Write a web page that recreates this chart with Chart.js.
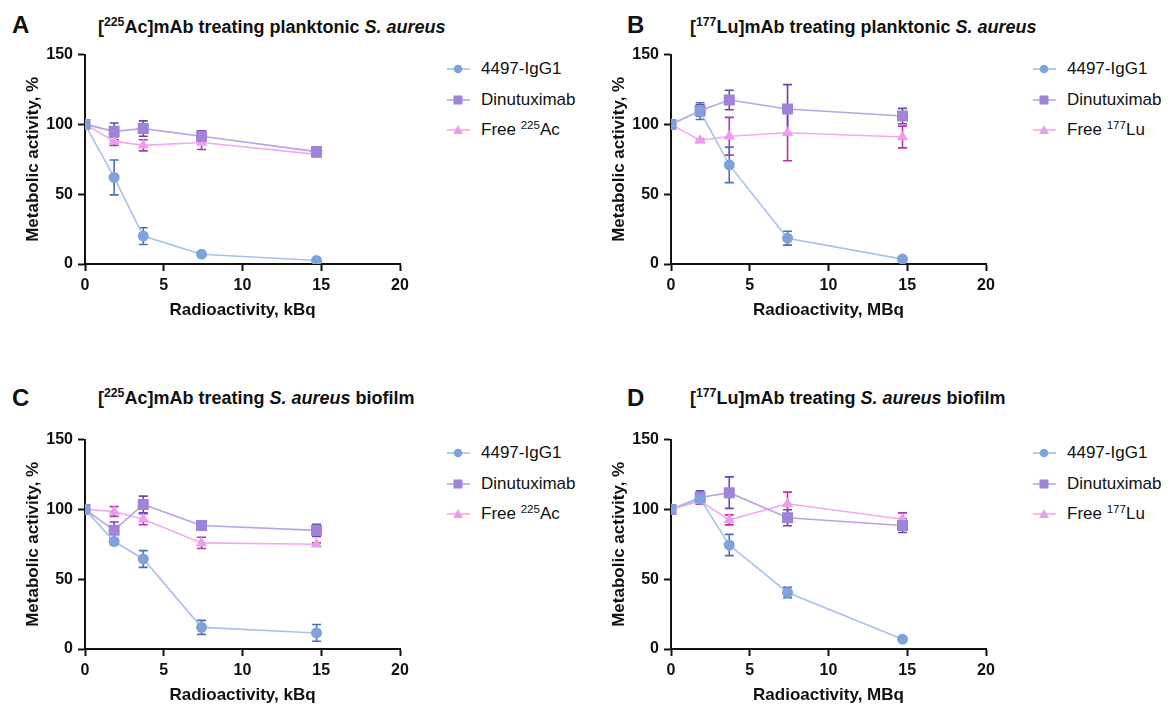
<!DOCTYPE html>
<html>
<head>
<meta charset="utf-8">
<script src="https://cdn.jsdelivr.net/npm/chart.js@4.4.1/dist/chart.umd.min.js"></script>
<style>
    body {
        margin: 0;
        width: 1169px;
        height: 706px;
        overflow: hidden;
        background: #ffffff;
        font-family: "Liberation Sans", Arial, sans-serif;
        position: relative;
    }
    .panel {
        position: absolute;
    }
    .letter {
        position: absolute;
        font-weight: bold;
        font-size: 24px;
        line-height: 24px;
        color: #111;
    }
    .title {
        position: absolute;
        font-weight: bold;
        font-size: 18px;
        line-height: 20px;
        color: #111;
        white-space: nowrap;
    }
    .title sup, .legend sup {
        font-size: 0.68em;
        line-height: 0;
        vertical-align: 0.55em;
    }
    .legend {
        position: absolute;
        font-size: 17px;
        color: #111;
    }
    .legend .item {
        position: absolute;
        left: 0;
        white-space: nowrap;
        height: 20px;
        line-height: 20px;
    }
    .legend svg {
        position: absolute;
        left: 0;
        top: 0;
    }
    .legend span {
        position: absolute;
        left: 35px;
        top: 0;
    }
</style>
</head>
<body>

<script>
// x values (dose) shared by all panels
const doses = [0, 1.85, 3.7, 7.4, 14.7];
const seriesNames = ["4497-IgG1", "Dinutuximab", "Free"];

// panel A: [225Ac]mAb, planktonic
const igg1A = [100, 62, 20, 7, 2.5];
const igg1AErr = [0, 12.5, 6, 1, 0.5];
const dinuA = [100, 95, 97, 91.5, 80.5];
const dinuAErr = [0, 6, 5.5, 4, 3];
const freeA = [100, 88, 85, 87, 78.5];
const freeAErr = [0, 3, 4, 5, 2];

// panel B: [177Lu]mAb, planktonic
const igg1B = [100, 109.5, 71, 18.5, 3.5];
const igg1BErr = [0, 6, 12.7, 5, 0.5];
const dinuB = [100, 110, 117.5, 111, 106];
const dinuBErr = [0, 4, 7, 17.5, 5.5];
const freeB = [100, 88.5, 91.5, 94, 91];
const freeBErr = [0, 1, 13.5, 20, 7.8];

// panel C: [225Ac]mAb, biofilm
const igg1C = [100, 77, 64.5, 15.5, 11.5];
const igg1CErr = [0, 2, 6, 5, 6];
const dinuC = [100, 85, 103.5, 88.5, 85];
const dinuCErr = [0, 6, 6, 1.5, 4.3];
const freeC = [100, 98.5, 93, 76, 75];
const freeCErr = [0, 3.5, 4, 4, 1];

// panel D: [177Lu]mAb, biofilm
const igg1D = [100, 107.5, 74.5, 40.5, 7];
const igg1DErr = [0, 3, 7.6, 3.7, 0.5];
const dinuD = [100, 108.5, 112, 94, 88.5];
const dinuDErr = [0, 4.8, 11.3, 5.7, 5];
const freeD = [100, 106, 92.5, 104, 93];
const freeDErr = [0, 2, 3.6, 8.4, 4.5];

const xTicks = [0, 5, 10, 15, 20];
const yTicks = [0, 50, 100, 150];

const styles = [
    { line: "#a9c1ea", point: "#7ea2dc", err: "#4d70b0", shape: "circle", r: 5.5 },
    { line: "#b9a3e6", point: "#a184d8", err: "#6947ad", shape: "rect", r: 7.8 },
    { line: "#f3a9f2", point: "#ee9ced", err: "#b534ab", shape: "triangle", r: 6.5 },
];

const FONT = "'Liberation Sans', Arial, sans-serif";

// draws the error bars through the chart scales
const errorBarPlugin = {
    id: "errorBars",
    beforeDatasetsDraw(chart) {
        const ctx = chart.ctx;
        const xs = chart.scales.x;
        const ys = chart.scales.y;
        // draw from last dataset to first, like chart.js draws points
        for (let d = chart.data.datasets.length - 1; d >= 0; d--) {
            const ds = chart.data.datasets[d];
            ctx.save();
            ctx.strokeStyle = ds.errColor;
            ctx.lineWidth = 1.6;
            for (let i = 0; i < ds.data.length; i++) {
                const e = ds.errors[i];
                if (!e) continue;
                const px = xs.getPixelForValue(ds.data[i].x);
                const top = ys.getPixelForValue(ds.data[i].y + e);
                const bot = ys.getPixelForValue(ds.data[i].y - e);
                ctx.beginPath();
                ctx.moveTo(px, top);
                ctx.lineTo(px, bot);
                ctx.moveTo(px - 4.5, top);
                ctx.lineTo(px + 4.5, top);
                ctx.moveTo(px - 4.5, bot);
                ctx.lineTo(px + 4.5, bot);
                ctx.stroke();
            }
            ctx.restore();
        }
    }
};

function makeDataset(i, values, errors, label) {
    const st = styles[i];
    return {
        label: label,
        data: doses.map((x, k) => ({ x: x, y: values[k] })),
        errors: errors,
        errColor: st.err,
        borderColor: st.line,
        borderWidth: 1.6,
        backgroundColor: st.point,
        pointBackgroundColor: st.point,
        pointBorderColor: st.point,
        pointBorderWidth: 0,
        pointStyle: st.shape,
        pointRadius: st.r,
        tension: 0,
    };
}

function makePanel(cfg) {
    const wrap = document.createElement("div");
    wrap.className = "panel";
    wrap.style.left = cfg.left + "px";
    wrap.style.top = cfg.top + "px";
    const canvas = document.createElement("canvas");
    canvas.width = 420;
    canvas.height = 281;
    wrap.appendChild(canvas);
    document.body.appendChild(wrap);

    const letter = document.createElement("div");
    letter.className = "letter";
    letter.textContent = cfg.letter;
    letter.style.left = cfg.letterX + "px";
    letter.style.top = cfg.letterY + "px";
    document.body.appendChild(letter);

    const title = document.createElement("div");
    title.className = "title";
    title.innerHTML = cfg.title;
    title.style.left = cfg.titleX + "px";
    title.style.top = cfg.titleY + "px";
    document.body.appendChild(title);

    const chart = new Chart(canvas.getContext("2d"), {
        type: "line",
        data: {
            datasets: [
                makeDataset(0, cfg.igg1, cfg.igg1Err, seriesNames[0]),
                makeDataset(1, cfg.dinu, cfg.dinuErr, seriesNames[1]),
                makeDataset(2, cfg.free, cfg.freeErr, seriesNames[2] + " " + cfg.isotope),
            ],
        },
        options: {
            responsive: false,
            animation: false,
            layout: {
                padding: { left: 0, right: 20, top: 14, bottom: 0 },
            },
            plugins: {
                legend: { display: false },
                tooltip: { enabled: false },
            },
            scales: {
                x: {
                    type: "linear",
                    min: 0,
                    max: 20,
                    afterBuildTicks: (scale) => {
                        scale.ticks = xTicks.map(v => ({ value: v }));
                    },
                    afterFit: (scale) => { scale.height = 57; },
                    border: { display: true, color: "#111", width: 2 },
                    grid: {
                        drawOnChartArea: false,
                        drawTicks: true,
                        tickLength: 7,
                        tickWidth: 2,
                        tickColor: "#111",
                    },
                    ticks: {
                        color: "#111",
                        padding: 5,
                        maxRotation: 0,
                        font: { family: FONT, size: 16, weight: "bold" },
                    },
                    title: {
                        display: true,
                        text: cfg.xTitle,
                        color: "#111",
                        padding: { top: 0, bottom: 0 },
                        font: { family: FONT, size: 17, weight: "bold" },
                    },
                },
                y: {
                    type: "linear",
                    min: 0,
                    max: 150,
                    afterBuildTicks: (scale) => {
                        scale.ticks = yTicks.map(v => ({ value: v }));
                    },
                    afterFit: (scale) => { scale.width = 85; },
                    border: { display: true, color: "#111", width: 2 },
                    grid: {
                        drawOnChartArea: false,
                        drawTicks: true,
                        tickLength: 7,
                        tickWidth: 2,
                        tickColor: "#111",
                    },
                    ticks: {
                        color: "#111",
                        padding: 5,
                        font: { family: FONT, size: 16, weight: "bold" },
                    },
                    title: {
                        display: true,
                        text: "Metabolic activity, %",
                        color: "#111",
                        padding: { top: 23, bottom: 0 },
                        font: { family: FONT, size: 17, weight: "bold" },
                    },
                },
            },
        },
        plugins: [errorBarPlugin],
    });

    // legend built from the chart datasets
    const legend = document.createElement("div");
    legend.className = "legend";
    legend.style.left = cfg.legendX + "px";
    legend.style.top = cfg.legendY + "px";
    const gaps = [0, 30.5, 61];
    chart.data.datasets.forEach((ds, i) => {
        const st = styles[i];
        const item = document.createElement("div");
        item.className = "item";
        item.style.top = gaps[i] + "px";
        let marker = "";
        if (st.shape === "circle") {
            marker = `<circle cx="12" cy="10" r="4.3" fill="${st.point}"/>`;
        } else if (st.shape === "rect") {
            marker = `<rect x="7.5" y="5.5" width="9" height="9" fill="${st.point}"/>`;
        } else {
            marker = `<polygon points="12,5 17,14 7,14" fill="${st.point}"/>`;
        }
        const name = i === 2 ? `Free <sup>${cfg.isoMass}</sup>${cfg.isoEl}` : ds.label;
        item.innerHTML = `<svg width="26" height="20"><line x1="1" y1="10" x2="24" y2="10" stroke="${st.line}" stroke-width="1.6"/>${marker}</svg><span>${name}</span>`;
        legend.appendChild(item);
    });
    document.body.appendChild(legend);
}

makePanel({
    letter: "A", letterX: 12, letterY: 13,
    title: "[<sup>225</sup>Ac]mAb treating planktonic <i>S. aureus</i>", titleX: 98, titleY: 17,
    left: 0, top: 40,
    xTitle: "Radioactivity, kBq",
    isotope: "225Ac", isoMass: "225", isoEl: "Ac",
    igg1: igg1A, igg1Err: igg1AErr, dinu: dinuA, dinuErr: dinuAErr, free: freeA, freeErr: freeAErr,
    legendX: 446, legendY: 59,
});

makePanel({
    letter: "B", letterX: 627, letterY: 13,
    title: "[<sup>177</sup>Lu]mAb treating planktonic <i>S. aureus</i>", titleX: 690, titleY: 17,
    left: 586, top: 40,
    xTitle: "Radioactivity, MBq",
    isotope: "177Lu", isoMass: "177", isoEl: "Lu",
    igg1: igg1B, igg1Err: igg1BErr, dinu: dinuB, dinuErr: dinuBErr, free: freeB, freeErr: freeBErr,
    legendX: 1032, legendY: 59,
});

makePanel({
    letter: "C", letterX: 12, letterY: 386,
    title: "[<sup>225</sup>Ac]mAb treating <i>S. aureus</i> biofilm", titleX: 98, titleY: 388,
    left: 0, top: 425,
    xTitle: "Radioactivity, kBq",
    isotope: "225Ac", isoMass: "225", isoEl: "Ac",
    igg1: igg1C, igg1Err: igg1CErr, dinu: dinuC, dinuErr: dinuCErr, free: freeC, freeErr: freeCErr,
    legendX: 446, legendY: 443,
});

makePanel({
    letter: "D", letterX: 627, letterY: 386,
    title: "[<sup>177</sup>Lu]mAb treating <i>S. aureus</i> biofilm", titleX: 690, titleY: 388,
    left: 586, top: 425,
    xTitle: "Radioactivity, MBq",
    isotope: "177Lu", isoMass: "177", isoEl: "Lu",
    igg1: igg1D, igg1Err: igg1DErr, dinu: dinuD, dinuErr: dinuDErr, free: freeD, freeErr: freeDErr,
    legendX: 1032, legendY: 443,
});
</script>
</body>
</html>
